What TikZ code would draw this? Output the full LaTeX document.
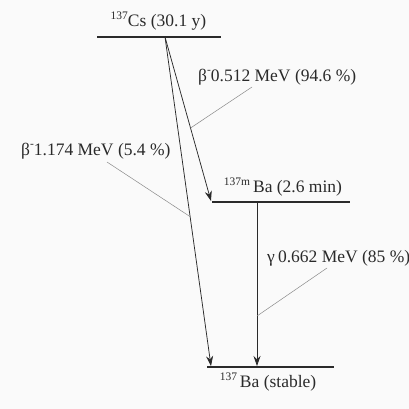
\documentclass[tikz,border=0pt]{standalone}
\usepackage{fontspec}
\setmainfont{Liberation Serif}
\usetikzlibrary{arrows.meta,calc}
\definecolor{ink}{HTML}{2A2A2A}
\definecolor{lead}{HTML}{8A8A8A}
\definecolor{paper}{HTML}{FAFAFA}
\tikzset{
  level/.style={draw=ink, line width=1.4pt},
  trans/.style={draw=ink, line width=0.75pt, -{Stealth[length=10pt,width=7pt]}},
  leader/.style={draw=lead, line width=0.5pt},
  lbl/.style={text=ink, font=\fontsize{17.5}{19}\selectfont, inner sep=0pt},
}
\newcommand{\sps}[1]{\raisebox{0.42em}{\fontsize{11.5}{12}\selectfont #1}}
\begin{document}
\begin{tikzpicture}[x=1pt,y=-1pt]
\fill[paper] (0,0) rectangle (409,409);
\useasboundingbox (0,0) rectangle (409,409);
% levels
\coordinate (csL) at (97,37);
\coordinate (csR) at (221,37);
\coordinate (bamL) at (212,202);
\coordinate (bamR) at (350,202);
\coordinate (baL) at (207,367);
\coordinate (baR) at (334,367);
\draw[level] (csL) -- (csR);
\draw[level] (bamL) -- (bamR);
\draw[level] (baL) -- (baR);
% transitions
\coordinate (src) at (165,37);
\coordinate (t1) at (211,201);
\coordinate (t2) at (211,366);
\coordinate (gs) at (257,202);
\coordinate (gt) at (257,366);
\draw[trans] (src) -- (t1);
\draw[trans] (src) -- (t2);
\draw[trans] (gs) -- (gt);
% level labels
\node[lbl] (cs) at (158.5,21) {\sps{137}Cs (30.1 y)};
\node[lbl] (bam) at (283,187) {\sps{137m}\,Ba (2.6 min)};
\node[lbl] (ba) at (268,382) {\sps{137}\,Ba (stable)};
% transition labels
\node[lbl, anchor=west] (b1) at (198,77) {β\sps{-}0.512 MeV (94.6 \%)};
\node[lbl, anchor=west] (b2) at (21,151) {β\sps{-}1.174 MeV (5.4 \%)};
\node[lbl, anchor=west] (g) at (267,258) {γ\hspace{0.18em}0.662 MeV (85 \%)};
% leaders
\coordinate (l1a) at (252,87);
\coordinate (l2a) at (107,162);
\coordinate (l3a) at (327,268);
\draw[leader] (l1a) -- ($(src)!0.555!(t1)$);
\draw[leader] (l2a) -- ($(src)!0.546!(t2)$);
\draw[leader] (l3a) -- (257,316);
\end{tikzpicture}
\end{document}
